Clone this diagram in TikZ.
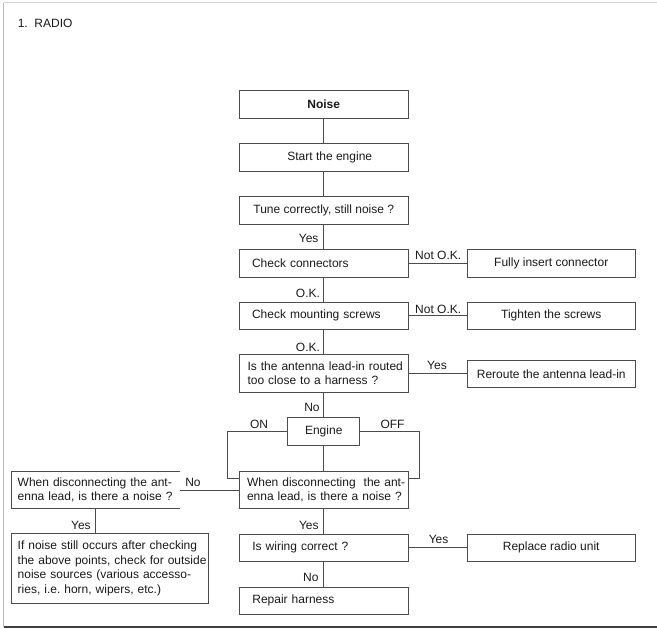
\documentclass[tikz,border=0pt]{standalone}
\usepackage{fontspec}
\setmainfont{Liberation Sans}
\frenchspacing
\definecolor{lc}{gray}{0.3}
\definecolor{tc}{gray}{0.1}
\newcommand\fs{\fontsize{12}{14.6}\selectfont}
\begin{document}
\begin{tikzpicture}[x=1pt,y=-1pt,
  box/.style={draw=lc, line width=.8pt, inner ysep=0pt, minimum height=27.3pt, font=\fs, text=tc},
  cbox/.style={box, minimum width=#1, inner xsep=0pt, align=center},
  lbox/.style={box, align=left},
  lab/.style={font=\fs, text=tc, inner sep=0pt, text height=8.6pt, text depth=0pt},
  link/.style={draw=lc, line width=.8pt}]
\useasboundingbox (0,0) rectangle (657,630);
% frame
\draw[gray!55, line width=.8pt] (3.5,627) -- (3.5,2.5);
\draw[gray!35, line width=1pt] (3.5,2.5) -- (657,2.5);
\draw[black!75, line width=1.5pt] (3.5,627) -- (657,627);
\node[lab, anchor=west] (title) at (17.6,22.7) {1.\ \ RADIO};
% boxes
\node[cbox=169.5pt, font=\fs\bfseries] (noise) at (323.75,104.5) {Noise};
\node[cbox=169.5pt] (start) at (323.75,157.35) {\hspace*{12pt}Start the engine};
\node[cbox=169.5pt, minimum height=27.7pt] (tune) at (323.75,210.15) {Tune correctly, still noise ?};
\node[lbox, text width=143.5pt, inner xsep=13pt] (conn) at (323.75,263.35) {Check connectors};
\node[cbox=168.5pt] (fully) at (551.25,263.35) {Fully insert connector};
\node[lbox, text width=143.5pt, inner xsep=13pt, minimum height=27pt] (screws) at (323.75,315.8) {Check mounting screws};
\node[cbox=168.5pt, minimum height=27pt] (tighten) at (551.25,315.8) {Tighten the screws};
\node[lbox, text width=152.5pt, inner xsep=8.5pt, minimum height=37.3pt] (antenna) at (323.75,373.35) {\mbox{Is the antenna lead-in routed}\\\mbox{too close to a harness ?}};
\node[cbox=168.5pt] (reroute) at (551.25,374) {Reroute the antenna lead-in};
\node[cbox=72pt, minimum height=27.6pt] (engine) at (323.75,431.5) {Engine};
\node[lbox, text width=153.5pt, inner xsep=8pt, minimum height=36.6pt] (disc) at (323.75,490) {\mbox{When disconnecting\ \ the ant-}\\\mbox{enna lead, is there a noise ?}};
\node[lbox, draw=none, text width=156.3pt, inner xsep=6pt, minimum height=36.6pt] (ldisc) at (95.85,490) {\mbox{When disconnecting the ant-}\\\mbox{enna lead, is there a noise ?}};
\draw[link] (ldisc.north east) -- (ldisc.north west) -- (ldisc.south west) -- (ldisc.south east);
\node[lbox, text width=184.5pt, inner xsep=6pt, minimum height=69.6pt] (ifnoise) at (109.95,568.5) {\mbox{If noise still occurs after checking}\\\mbox{the above points, check for outside}\\\mbox{noise sources (various accesso-}\\\mbox{ries, i.e. horn, wipers, etc.)}};
\node[lbox, text width=142.7pt, inner xsep=13.4pt, minimum height=27.7pt] (wiring) at (323.75,547.85) {Is wiring correct ?};
\node[cbox=168.5pt, minimum height=27.7pt] (replace) at (551.25,547.85) {Replace radio unit};
\node[lbox, text width=142.7pt, inner xsep=13.4pt] (repair) at (323.75,600.65) {Repair harness};
% connectors
\draw[link] (noise.south) -- (start.north);
\draw[link] (start.south) -- (tune.north);
\draw[link] (tune.south) -- (conn.north);
\draw[link] (conn.south) -- (screws.north);
\draw[link] (screws.south) -- (antenna.north);
\draw[link] (antenna.south) -- (engine.north);
\draw[link] (engine.south) -- (disc.north);
\draw[link] (disc.south) -- (wiring.north);
\draw[link] (wiring.south) -- (repair.north);
\draw[link] (conn.east) -- (fully.west);
\draw[link] (screws.east) -- (tighten.west);
\draw[link] (antenna.east) -- (antenna.east -| reroute.west);
\draw[link] (wiring.east) -- (replace.west);
\coordinate (onc) at (227.5,478);
\coordinate (offc) at (419.8,478);
\draw[link] (engine.west) -| (onc) -- (onc -| disc.west);
\draw[link] (engine.east) -| (offc) -- (offc -| disc.east);
\draw[link] (disc.west) -- (disc.west -| ldisc.east);
\draw[link] (ldisc.south) -- (ldisc.south |- ifnoise.north);
% labels
\node[lab] (l1) at (308.7,237.7) {Yes};
\node[lab] (l2) at (308,293.3) {O.K.};
\node[lab] (l3) at (438.2,255) {Not O.K.};
\node[lab] (l4) at (438.2,309.3) {Not O.K.};
\node[lab] (l5) at (308,347.3) {O.K.};
\node[lab] (l6) at (437,365) {Yes};
\node[lab] (l7) at (312,407.3) {No};
\node[lab] (l8) at (259,424) {ON};
\node[lab] (l9) at (392.5,424) {OFF};
\node[lab] (l10) at (193,482.3) {No};
\node[lab] (l11) at (80.9,525) {Yes};
\node[lab] (l12) at (308.8,525) {Yes};
\node[lab] (l13) at (438.6,538.7) {Yes};
\node[lab] (l14) at (310.8,577.3) {No};
\end{tikzpicture}
\end{document}
